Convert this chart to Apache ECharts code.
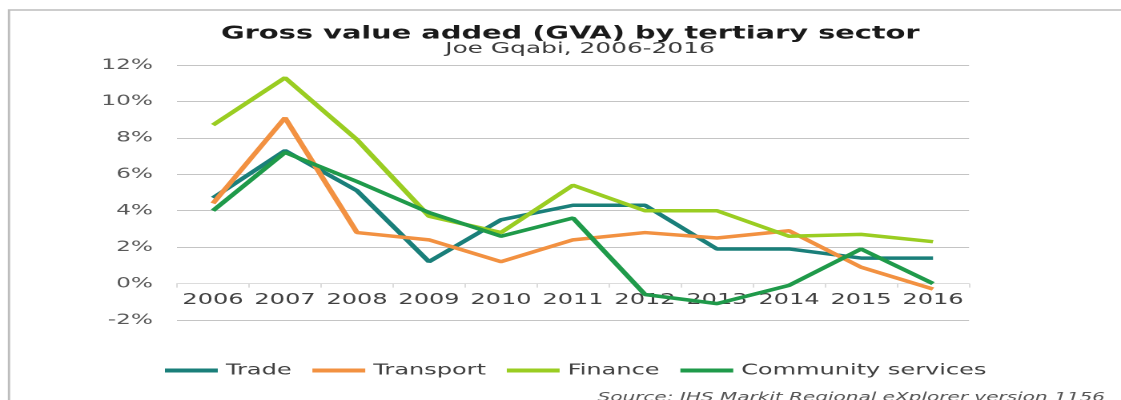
<!DOCTYPE html>
<html>
<head>
<meta charset="utf-8">
<script src="https://cdn.jsdelivr.net/npm/echarts@6/dist/echarts.min.js"></script>
<style>
  html, body { margin: 0; padding: 0; background: #ffffff; overflow: hidden; }
  #wrap { width: 1121px; height: 400px; overflow: hidden; position: relative; }
  #chart { width: 700px; height: 400px; transform: scaleX(1.60143); transform-origin: 0 0; }
</style>
</head>
<body>
<div id="wrap"><div id="chart"></div></div>
<script>
const years = ['2006', '2007', '2008', '2009', '2010', '2011', '2012', '2013', '2014', '2015', '2016'];
const trade = [4.7, 7.3, 5.1, 1.2, 3.5, 4.3, 4.3, 1.9, 1.9, 1.4, 1.4];
const transport = [4.4, 9.1, 2.8, 2.4, 1.2, 2.4, 2.8, 2.5, 2.9, 0.9, -0.3];
const finance = [8.7, 11.3, 7.9, 3.7, 2.8, 5.4, 4.0, 4.0, 2.6, 2.7, 2.3];
const community = [4.0, 7.2, 5.6, 3.9, 2.6, 3.6, -0.6, -1.1, -0.1, 1.9, 0.0];
const seriesNames = ['Trade', 'Transport', 'Finance', 'Community services'];
const yTicks = { min: -2, max: 12, interval: 2 };
const titleText = 'Gross value added (GVA) by tertiary sector';
const subtitleText = 'Joe Gqabi, 2006-2016';
const sourceText = 'Source: IHS Markit Regional eXplorer version 1156';

const colors = ['#1a7f7a', '#f29141', '#9acd22', '#1f9a4a'];
const font = 'DejaVu Sans';

const gridTop = 65, gridBottom = 80, chartH = 400;
const plotH = chartH - gridTop - gridBottom;
const zeroOffset = -plotH * (0 - yTicks.min) / (yTicks.max - yTicks.min);

const chart = echarts.init(document.getElementById('chart'), null, { renderer: 'canvas', devicePixelRatio: 2 });
const values = [trade, transport, finance, community];

chart.setOption({
  animation: false,
  backgroundColor: '#ffffff',
  color: colors,
  graphic: [{
    type: 'rect',
    silent: true,
    shape: { x: 5.6, y: 10, width: 760, height: 440 },
    style: { fill: null, stroke: '#bdbdbd', lineWidth: 1.4 }
  }],
  title: [
    {
      text: titleText,
      left: 133, top: 20,
      textStyle: { fontFamily: font, fontSize: 18, fontWeight: 'bold', color: '#1a1a1a' }
    },
    {
      text: subtitleText,
      left: 273, top: 36,
      textStyle: { fontFamily: font, fontSize: 15.5, fontWeight: 'normal', color: '#3a3a3a' }
    },
    {
      text: sourceText,
      right: 5, top: 386,
      textStyle: { fontFamily: font, fontSize: 12.5, fontStyle: 'italic', fontWeight: 'normal', color: '#555555' }
    }
  ],
  legend: {
    data: seriesNames,
    left: 98, top: 358,
    icon: 'rect',
    itemWidth: 33, itemHeight: 4,
    itemGap: 13,
    textStyle: { fontFamily: font, fontSize: 15, color: '#404040' }
  },
  grid: { left: 110.5, right: 94.9, top: gridTop, bottom: gridBottom, containLabel: false },
  xAxis: {
    type: 'category',
    data: years,
    boundaryGap: true,
    offset: zeroOffset,
    axisLine: { onZero: false, lineStyle: { color: '#dcdcdc', width: 1 } },
    axisTick: { show: true, length: 4, lineStyle: { color: '#dcdcdc' } },
    axisLabel: { interval: 0, fontFamily: font, fontSize: 15, color: '#404040', margin: 9 }
  },
  yAxis: {
    type: 'value',
    min: yTicks.min, max: yTicks.max, interval: yTicks.interval,
    axisLine: { show: false },
    axisTick: { show: false },
    axisLabel: { fontFamily: font, fontSize: 14.5, color: '#595959', margin: 15, formatter: '{value}%' },
    splitLine: { lineStyle: { color: '#c4c4c4', width: 1 } }
  },
  series: seriesNames.map((name, i) => ({
    name: name,
    type: 'line',
    data: values[i],
    symbol: 'none',
    lineStyle: { width: 3.5, color: colors[i] },
    itemStyle: { color: colors[i] }
  }))
});
</script>
</body>
</html>
